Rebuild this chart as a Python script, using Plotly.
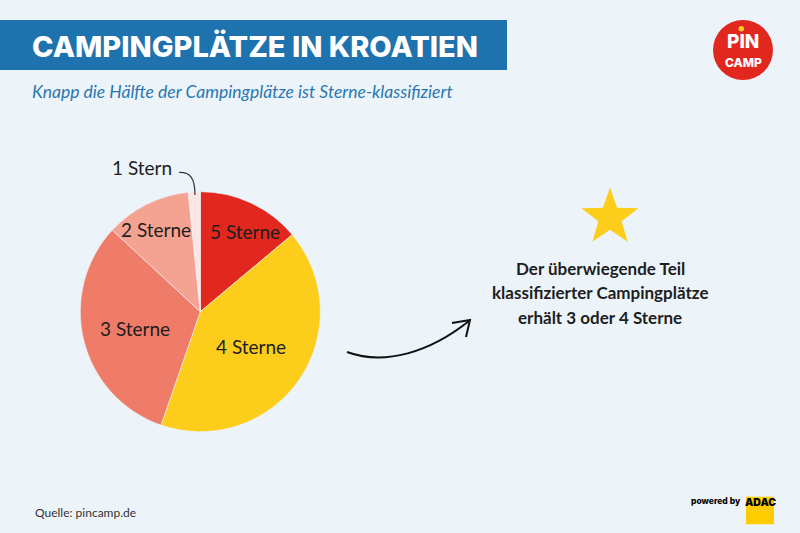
import math
import plotly.graph_objects as go

# ---- data ----
categories = ["5 Sterne", "4 Sterne", "3 Sterne", "2 Sterne", "1 Stern"]
shares = [13.9, 41.4, 31.6, 11.5, 1.6]
slice_colors = ["#E2271E", "#FDCD1B", "#EF7B69", "#F4A393", "#FDE6E1"]
label_radius = [0.76, 0.51, 0.56, 0.78, None]   # relative radius for inside labels
label_turn = [4, 0, 0, -2, 0]                   # small angular nudge (degrees)

title_text = "CAMPINGPLÄTZE IN KROATIEN"
subtitle_text = "Knapp die Hälfte der Campingplätze ist Sterne-klassifiziert"
note_lines = ["Der überwiegende Teil", "klassifizierter Campingplätze", "erhält 3 oder 4 Sterne"]
source_text = "Quelle: pincamp.de"

W, H = 800, 533
BG = "#ECF4FA"
BLUE = "#1E72AD"

# pie geometry (pixels)
cx, cy, R = 200.3, 311.7, 120.0

fig = go.Figure()
fig.add_trace(go.Scatter(x=[], y=[], hoverinfo="skip", showlegend=False))
fig.add_trace(go.Pie(
    labels=categories, values=shares, sort=False, direction="clockwise",
    rotation=0, textinfo="none", hoverinfo="label+percent",
    marker=dict(colors=slice_colors, line=dict(color=BG, width=0.6)),
    domain=dict(x=[(cx - R) / W, (cx + R) / W], y=[1 - (cy + R) / H, 1 - (cy - R) / H]),
    showlegend=False,
))

shapes = []
ann = []

# header bar
shapes.append(dict(type="rect", x0=0, x1=507, y0=20, y1=70, fillcolor=BLUE, line_width=0, layer="below"))
ann.append(dict(x=30, y=46, text=title_text, xanchor="left", yanchor="middle", showarrow=False,
                font=dict(family="Inter", size=29, color="white", weight=800)))
ann.append(dict(x=30, y=91, text=subtitle_text, xanchor="left", yanchor="middle", showarrow=False,
                font=dict(family="Lato", size=17.5, color="#2B77AE", style="italic")))

# pie labels from data angles
total = sum(shares)
cum = 0.0
for cat, v, rr, turn in zip(categories, shares, label_radius, label_turn):
    mid = (cum + v / 2) / total * 2 * math.pi + math.radians(turn)
    cum += v
    if rr is None:
        continue
    lx = cx + rr * R * math.sin(mid)
    ly = cy - rr * R * math.cos(mid)
    ann.append(dict(x=lx, y=ly, text=cat, showarrow=False, xanchor="center", yanchor="middle",
                    font=dict(family="Lato", size=19, color="#1E1E1E")))

# 1 Stern outside label + leader
ann.append(dict(x=142, y=167, text=categories[4], showarrow=False, xanchor="center", yanchor="middle",
                font=dict(family="Lato", size=19, color="#1E1E1E")))
shapes.append(dict(type="path", path="M 179,172.5 C 190,172 195,178 195,195",
                   line=dict(color="#333333", width=1.2)))

# star
pts = []
sx, sy, so, si = 610, 217.5, 30, 12.2
for k in range(10):
    a = k * math.pi / 5
    rad = so if k % 2 == 0 else si
    pts.append((sx + rad * math.sin(a), sy - rad * math.cos(a)))
star = "M " + " L ".join(f"{x:.2f},{y:.2f}" for x, y in pts) + " Z"
shapes.append(dict(type="path", path=star, fillcolor="#FDCD1B", line_width=0))

# note text
for i, line in enumerate(note_lines):
    ann.append(dict(x=600, y=268 + i * 24.5, text=line, showarrow=False, xanchor="center", yanchor="middle",
                    font=dict(family="Lato", size=17, color="#1E1E1E", weight="bold")))

# arrow
shapes.append(dict(type="path", path="M 347,352 C 385,366 430,352 469,321",
                   line=dict(color="#111111", width=2)))
shapes.append(dict(type="path", path="M 452,323 L 470,320 L 466,337",
                   line=dict(color="#111111", width=2)))

# PiN CAMP logo
shapes.append(dict(type="circle", x0=713, x1=773, y0=20, y1=80, fillcolor="#E2271E", line_width=0))
shapes.append(dict(type="circle", x0=738.5, x1=744, y0=26, y1=31.5, fillcolor="#FDCD1B", line_width=0))
ann.append(dict(x=742.5, y=41.5, text="PIN", showarrow=False, xanchor="center", yanchor="middle",
                font=dict(family="Inter", size=19, color="white", weight=800)))
ann.append(dict(x=743, y=62, text="CAMP", showarrow=False, xanchor="center", yanchor="middle",
                font=dict(family="Inter", size=12, color="white", weight=800)))

# source
ann.append(dict(x=33, y=512, text=source_text, showarrow=False, xanchor="left", yanchor="middle",
                font=dict(family="Lato", size=12, color="#333333")))

# powered by ADAC
shapes.append(dict(type="rect", x0=746, x1=774, y0=496.7, y1=524.3, fillcolor="#FFCC00", line_width=0))
ann.append(dict(x=760, y=502.5, text="ADAC", showarrow=False, xanchor="center", yanchor="middle",
                font=dict(family="Inter", size=10.5, color="black", weight=900)))
ann.append(dict(x=743, y=500.5, text="powered by", showarrow=False, xanchor="right", yanchor="middle",
                font=dict(family="Inter", size=8.5, color="black", weight=800)))

fig.update_layout(
    width=W, height=H, margin=dict(l=0, r=0, t=0, b=0),
    paper_bgcolor=BG, plot_bgcolor=BG,
    xaxis=dict(range=[0, W], visible=False, fixedrange=True),
    yaxis=dict(range=[H, 0], visible=False, fixedrange=True),
    shapes=shapes, annotations=ann, showlegend=False,
)
fig.write_html("out.html")
